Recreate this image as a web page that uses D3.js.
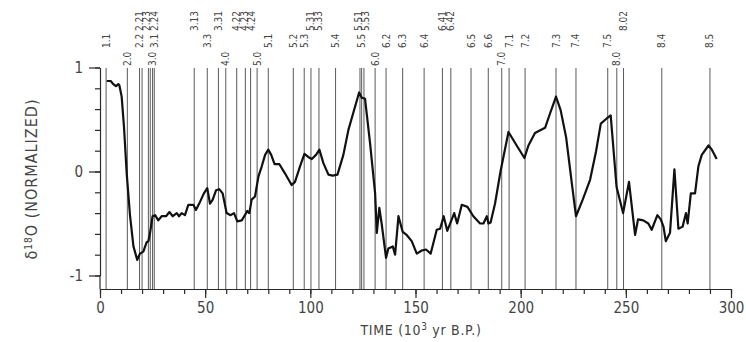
<!DOCTYPE html>
<html>
<head>
<meta charset="utf-8">
<script src="https://cdn.jsdelivr.net/npm/d3@7"></script>
<style>
  html, body { margin: 0; padding: 0; background: #fff; }
  svg text {
    font-family: "DejaVu Sans Condensed", "DejaVu Sans", sans-serif;
    fill: #444;
  }
</style>
</head>
<body>
<svg id="chart" width="746" height="342"></svg>
<script>
// Normalized δ18O stack, age in thousands of years before present
const ageKyr = [
  3.2, 5.1, 6.3, 7.6, 8.7, 9.2, 10.3, 11.4, 12.7, 14.3, 15.9, 17.7, 19.0, 20.6, 22.2, 23.0,
  23.8, 25.0, 26.2, 27.7, 29.3, 31.4, 33.0, 34.6, 36.5, 37.6, 38.8, 40.4, 42.0, 44.4, 45.6,
  47.6, 49.4, 51.0, 52.3, 53.6, 55.2, 56.7, 58.3, 60.2, 62.1, 63.7, 65.3, 67.4, 68.9, 70.0,
  71.0, 72.1, 73.7, 75.3, 76.9, 78.5, 80.0, 81.4, 83.0, 85.3, 88.0, 91.1, 92.7, 95.1, 97.2,
  99.0, 100.7, 102.7, 104.3, 106.2, 108.6, 110.6, 112.9, 115.7, 118.1, 120.5, 123.2, 124.4,
  126.0, 128.4, 130.8, 131.6, 132.8, 133.9, 136.0, 137.1, 139.2, 140.3, 141.9, 143.9, 145.8,
  148.2, 150.6, 153.0, 155.0, 157.2, 160.1, 161.7, 163.4, 165.1, 168.4, 169.8, 172.0, 174.7,
  177.5, 180.7, 182.3, 183.9, 184.7, 185.7, 187.8, 190.5, 194.2, 198.1, 201.8, 203.7, 206.8,
  211.6, 214.0, 216.8, 219.0, 221.6, 224.3, 226.3, 229.5, 233.0, 235.8, 238.1, 240.9, 242.8,
  244.1, 245.6, 248.7, 251.5, 254.4, 255.8, 258.3, 260.7, 262.3, 265.0, 266.6, 267.9, 269.0,
  271.0, 273.1, 275.0, 277.0, 278.6, 279.4, 280.9, 282.9, 284.5, 286.1, 289.3, 290.9, 293.2
];
const d18ONorm = [
  0.87, 0.87, 0.84, 0.82, 0.84, 0.83, 0.72, 0.43, -0.02, -0.43, -0.72, -0.85, -0.79, -0.77, -0.68, -0.67,
  -0.59, -0.43, -0.42, -0.47, -0.43, -0.43, -0.39, -0.43, -0.40, -0.43, -0.40, -0.42, -0.32, -0.32, -0.37,
  -0.29, -0.21, -0.16, -0.31, -0.27, -0.18, -0.17, -0.21, -0.40, -0.42, -0.40, -0.48, -0.47, -0.42, -0.38,
  -0.40, -0.27, -0.24, -0.05, 0.05, 0.16, 0.21, 0.16, 0.07, 0.07, -0.02, -0.13, -0.10, 0.05, 0.17,
  0.14, 0.12, 0.16, 0.21, 0.08, -0.03, -0.04, -0.03, 0.16, 0.40, 0.57, 0.76, 0.71,
  0.70, 0.27, -0.21, -0.59, -0.35, -0.50, -0.83, -0.74, -0.72, -0.80, -0.43, -0.58, -0.61,
  -0.67, -0.79, -0.76, -0.75, -0.79, -0.56, -0.55, -0.43, -0.57, -0.40, -0.50, -0.32, -0.34,
  -0.43, -0.50, -0.50, -0.43, -0.50, -0.49, -0.31, 0.01, 0.38, 0.25, 0.13, 0.25, 0.37,
  0.42, 0.56, 0.72, 0.59, 0.33, -0.11, -0.43, -0.27, -0.08, 0.19, 0.46, 0.51, 0.54,
  0.22, -0.15, -0.40, -0.10, -0.61, -0.46, -0.47, -0.50, -0.56, -0.42, -0.46, -0.53, -0.67,
  -0.59, 0.02, -0.55, -0.53, -0.40, -0.50, -0.21, -0.21, 0.05, 0.16, 0.25, 0.21, 0.12
];

// Isotope stage event names and their ages (kyr B.P.)
const eventLabels = [
  "1.1", "2.0", "2.2", "2.21", "2.23", "2.24", "3.0", "3.1", "3.13", "3.3", "3.31", "4.0",
  "4.22", "4.23", "4.24", "5.0", "5.1", "5.2", "5.3", "5.31", "5.33", "5.4", "5.51", "5.5",
  "5.53", "6.0", "6.2", "6.3", "6.4", "6.41", "6.42", "6.5", "6.6", "7.0", "7.1", "7.2",
  "7.3", "7.4", "7.5", "8.0", "8.02", "8.4", "8.5"
];
const eventAgeKyr = [
  2.9, 13.0, 18.8, 20.0, 23.0, 23.9, 25.0, 25.8, 44.8, 51.0, 56.3, 59.8,
  65.0, 69.1, 71.6, 74.7, 80.0, 91.9, 97.1, 100.3, 104.1, 112.0, 123.6, 124.4,
  125.5, 130.8, 136.0, 143.9, 154.1, 162.8, 166.8, 176.4, 184.6, 191.0, 194.5, 202.1,
  216.8, 226.3, 241.4, 245.7, 248.9, 267.1, 290.0
];

const xTickValues = [0, 50, 100, 150, 200, 250, 300];
const yTickValues = [-1, 0, 1];

// ---- layout ----
const plotLeft = 100, plotRight = 731;
const yTop = 67.5, yBottom = 275.5;
const axisY = 289;
const eventTop = 68;

const svg = d3.select("#chart");

const x = d3.scaleLinear().domain([0, 300]).range([plotLeft, plotRight]);
const y = d3.scaleLinear().domain([-1, 1]).range([yBottom, yTop]);

const axisColor = "#2a2a2a";

// x axis: minor ticks every 10 kyr, longer ticks with labels every 50 kyr
svg.append("g")
  .attr("transform", `translate(0,${axisY})`)
  .call(d3.axisBottom(x).tickValues(d3.range(0, 301, 10)).tickSize(5).tickSizeOuter(0).tickFormat(""));
const xMajor = svg.append("g")
  .attr("transform", `translate(0,${axisY})`)
  .call(d3.axisBottom(x).tickValues(xTickValues).tickSize(9).tickPadding(4).tickFormat(d => String(d)));
xMajor.select(".domain").remove();

// y axis: minor ticks every 0.2, labelled ticks at -1, 0, 1
svg.append("g")
  .attr("transform", `translate(${plotLeft},0)`)
  .call(d3.axisLeft(y).tickValues(d3.range(-1, 1.001, 0.2)).tickSize(5).tickSizeOuter(0).tickFormat(""));
const yMajor = svg.append("g")
  .attr("transform", `translate(${plotLeft},0)`)
  .call(d3.axisLeft(y).tickValues(yTickValues).tickSize(11).tickPadding(6).tickFormat(d => String(d)));
yMajor.select(".domain").remove();

// y axis continues down to the time axis
svg.append("line")
  .attr("x1", plotLeft).attr("x2", plotLeft)
  .attr("y1", y(-1)).attr("y2", axisY)
  .attr("stroke", axisColor).attr("stroke-width", 1.2);

svg.selectAll(".domain, .tick line").attr("stroke", axisColor).attr("stroke-width", 1.2);
svg.selectAll(".tick text").attr("font-size", 15).attr("fill", "#444")
  .attr("font-family", '"DejaVu Sans Condensed", "DejaVu Sans", sans-serif');

// event lines
svg.append("g").selectAll("line")
  .data(eventAgeKyr)
  .join("line")
  .attr("x1", d => x(d)).attr("x2", d => x(d))
  .attr("y1", eventTop).attr("y2", axisY)
  .attr("stroke", "#5a5a5a").attr("stroke-width", 1);

// δ18O curve
const line = d3.line()
  .x((d, i) => x(ageKyr[i]))
  .y(d => y(d));
svg.append("path")
  .attr("d", line(d18ONorm))
  .attr("fill", "none")
  .attr("stroke", "#111")
  .attr("stroke-width", 2.2)
  .attr("stroke-linejoin", "round");

// event labels in three rows: stage boundaries (x.0) lowest, sub-events (two decimals) highest
function rowOf(label) {
  if (label.endsWith(".0")) return 66;
  if (label.split(".")[1].length === 2) return 31;
  return 48;
}
const labelItems = eventLabels.map((lab, i) => ({ lab, row: rowOf(lab), px: x(eventAgeKyr[i]) }));
// spread crowded labels within each row
const minGap = 7.5;
d3.groups(labelItems, d => d.row).forEach(([, items]) => {
  items.sort((a, b) => a.px - b.px);
  for (let iter = 0; iter < 80; iter++) {
    for (let k = 0; k < items.length - 1; k++) {
      const gap = items[k + 1].px - items[k].px;
      if (gap < minGap) {
        const push = (minGap - gap) / 2;
        items[k].px -= push;
        items[k + 1].px += push;
      }
    }
  }
});
svg.append("g").selectAll("text")
  .data(labelItems)
  .join("text")
  .attr("transform", d => `translate(${d.px},${d.row}) rotate(-90)`)
  .attr("dy", "0.35em")
  .attr("font-size", 10)
  .text(d => d.lab);

// axis titles
const xTitle = svg.append("text")
  .attr("x", 421).attr("y", 335)
  .attr("text-anchor", "middle")
  .attr("font-size", 14)
  .attr("letter-spacing", 0.7);
xTitle.append("tspan").text("TIME (10");
xTitle.append("tspan").attr("dy", -5).attr("font-size", 10).text("3");
xTitle.append("tspan").attr("dy", 5).text(" yr B.P.)");

const yTitle = svg.append("text")
  .attr("transform", "translate(37,179) rotate(-90)")
  .attr("text-anchor", "middle")
  .attr("font-size", 16)
  .attr("letter-spacing", 1);
yTitle.append("tspan").text("δ");
yTitle.append("tspan").attr("dy", -5).attr("font-size", 10).text("18");
yTitle.append("tspan").attr("dy", 5).text("O (NORMALIZED)");
</script>
</body>
</html>
